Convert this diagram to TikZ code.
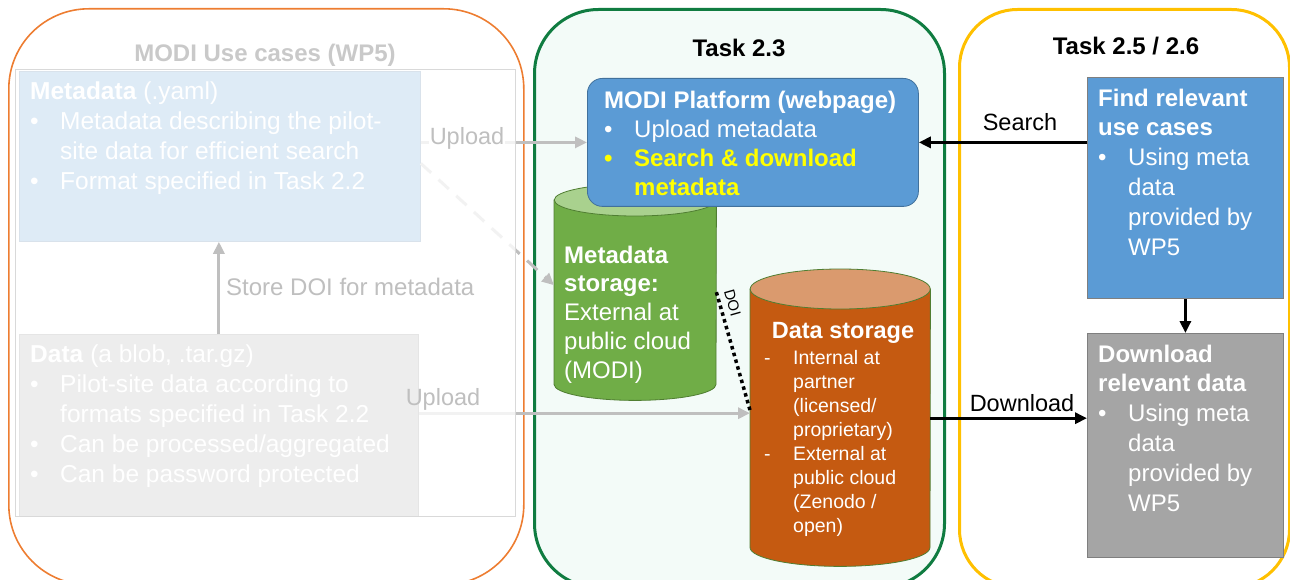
\documentclass[tikz,border=0pt]{standalone}
\usepackage{fontspec}
\setmainfont{Liberation Sans}
\usetikzlibrary{arrows.meta,calc}

\definecolor{cOrange}{HTML}{ED7D31}
\definecolor{cGreenF}{HTML}{107C41}
\definecolor{cMint}{HTML}{F3FBF8}
\definecolor{cYellow}{HTML}{FFC000}
\definecolor{cBlue}{HTML}{5B9BD5}
\definecolor{cBlueD}{HTML}{41719C}
\definecolor{cGray}{HTML}{A5A5A5}
\definecolor{cGrayD}{HTML}{7F7F7F}
\definecolor{cGreen}{HTML}{70AD47}
\definecolor{cGreenL}{HTML}{A9D18E}
\definecolor{cGreenD}{HTML}{507E32}
\definecolor{cRust}{HTML}{C55A11}
\definecolor{cRustL}{HTML}{DA9A6E}
\definecolor{cLine}{HTML}{BFBFBF}
\definecolor{cFaint}{HTML}{C9C9C9}
\definecolor{cVeil}{HTML}{D9D9D9}
\definecolor{cYel}{HTML}{FFFF00}

\newcommand\setfs[2]{\fontsize{#1}{#2}\selectfont}
\newcommand\bitem[1]{\makebox[30pt][l]{\textbullet}#1}
\newcommand\bcont[1]{\hspace*{30pt}#1}
\newcommand\ditem[1]{\makebox[29pt][l]{-}#1}
\newcommand\dcont[1]{\hspace*{29pt}#1}

\tikzset{
  zone/.style={inner sep=0pt, anchor=north west},
  box/.style={inner sep=0pt, anchor=north west, line width=0.8pt},
  txt/.style={inner sep=0pt, anchor=north west, align=left, text=white},
  ttl/.style={inner sep=0pt, anchor=base, font=\setfs{24}{29}\bfseries},
  lbl/.style={inner sep=0pt, anchor=base, font=\setfs{23.5}{28}},
  garrow/.style={draw=cLine, line width=3pt, -{Triangle[length=12pt,width=11pt]}},
  barrow/.style={draw=black, line width=3pt, -{Triangle[length=12pt,width=11pt]}},
}

\begin{document}
\begin{tikzpicture}[x=1pt,y=-1pt]
\useasboundingbox (0,0) rectangle (1290,580);
\clip (0,0) rectangle (1290,580);

% ---------- three work-package zones ----------
\node[zone, draw=cOrange, line width=1.6pt, rounded corners=80pt,
      minimum width=515pt, minimum height=576pt] (wp5) at (8,8) {};
\node[zone, draw=cGreenF, fill=cMint, line width=3pt, rounded corners=64pt,
      minimum width=410pt, minimum height=578pt] (t23) at (533,8) {};
\node[zone, draw=cYellow, line width=3pt, rounded corners=58pt,
      minimum width=330pt, minimum height=578pt] (t256) at (958,8) {};

\node[ttl, text=cFaint] (wp5t) at (265,62) {MODI Use cases (WP5)};
\node[ttl] (t23t) at (739,57) {Task 2.3};
\node[ttl] (t256t) at (1126,55) {Task 2.5 / 2.6};

% ---------- WP5 use cases (shown faded) ----------
\node[box, fill=cBlue, draw=cBlueD, minimum width=401pt, minimum height=170pt] (mbox) at (19,71) {};
\node[txt, font=\setfs{24.5}{30}] (mboxt) at (30,78)
  {\strut\textbf{Metadata} (.yaml)\\
   \bitem{Metadata describing the pilot-}\\
   \bcont{site data for efficient search}\\
   \bitem{Format specified in Task 2.2}};

\node[box, fill=cGray, draw=cGrayD, minimum width=399pt, minimum height=182pt] (dbox) at (19,334) {};
\node[txt, font=\setfs{24.5}{30}] (dboxt) at (30,341)
  {\strut\textbf{Data} (a blob, .tar.gz)\\
   \bitem{Pilot-site data according to}\\
   \bcont{formats specified in Task 2.2}\\
   \bitem{Can be processed/aggregated}\\
   \bitem{Can be password protected}};

% ---------- Task 2.3: metadata storage ----------
\node[zone, minimum width=162pt, minimum height=184pt] (mstore) at (554,200) {};
\draw[fill=cGreen, draw=cGreenD, line width=0.8pt]
  (mstore.north west) -- (mstore.south west)
  arc[start angle=180, end angle=360, x radius=81pt, y radius=16pt]
  -- (mstore.north east) -- cycle;
\draw[fill=cGreenL, draw=cGreenD, line width=0.8pt]
  (mstore.north) ellipse[x radius=81pt, y radius=16pt];
\node[txt, font=\setfs{24}{28.7}] (mstoret) at (564,243)
  {\strut\textbf{Metadata}\\ \textbf{storage:}\\ External at\\ public cloud\\ (MODI)};

% ---------- Task 2.3: platform ----------
\node[box, fill=cBlue, draw=cBlueD, rounded corners=15pt,
      minimum width=331pt, minimum height=128pt] (plat) at (587,78) {};
\node[txt, font=\setfs{24}{29}] (platt) at (604,87.7)
  {\strut\textbf{MODI Platform (webpage)}\\
   \bitem{Upload metadata}\\
   {\color{cYel}\bfseries\bitem{Search \& download}}\\
   {\color{cYel}\bfseries\bcont{metadata}}};

% ---------- Task 2.3: data storage ----------
\node[zone, minimum width=180pt, minimum height=258pt] (dstore) at (750,289) {};
\draw[fill=cRust, draw=cGreenD, line width=0.8pt]
  (dstore.north west) -- (dstore.south west)
  arc[start angle=180, end angle=360, x radius=90pt, y radius=19pt]
  -- (dstore.north east) -- cycle;
\draw[fill=cRustL, draw=cGreenD, line width=0.8pt]
  (dstore.north) ellipse[x radius=90pt, y radius=20pt];
\node[inner sep=0pt, anchor=base, text=white, font=\setfs{23.5}{28}\bfseries] (dstoreh) at (843,338) {Data storage};
\node[txt, font=\setfs{19.5}{24}] (dstoret) at (764,347.7)
  {\strut\ditem{Internal at}\\ \dcont{partner}\\ \dcont{(licensed/}\\ \dcont{proprietary)}\\
   \ditem{External at}\\ \dcont{public cloud}\\ \dcont{(Zenodo /}\\ \dcont{open)}};

% DOI link between the two stores
\draw[line width=3.5pt, dash pattern=on 3.5pt off 3.5pt]
  (mstore.east) -- node[sloped, above, pos=0.12, inner sep=5.5pt, font=\setfs{15}{17}] (doil) {DOI}
  ([yshift=8pt]dstore.west);

% ---------- Task 2.5 / 2.6 ----------
\node[box, fill=cBlue, draw=cGrayD, minimum width=196pt, minimum height=221pt] (find) at (1087,77) {};
\node[txt, font=\setfs{24}{29.8}] (findt) at (1098,85.1)
  {\strut\textbf{Find relevant}\\ \textbf{use cases}\\
   \bitem{Using meta}\\ \bcont{data}\\ \bcont{provided by}\\ \bcont{WP5}};

\node[box, fill=cGray, draw=cGrayD, minimum width=196pt, minimum height=224pt] (dl) at (1087,333) {};
\node[txt, font=\setfs{24}{29.8}] (dlt) at (1098,341.1)
  {\strut\textbf{Download}\\ \textbf{relevant data}\\
   \bitem{Using meta}\\ \bcont{data}\\ \bcont{provided by}\\ \bcont{WP5}};

% ---------- connectors ----------
\draw[garrow] (plat.west -| mbox.east) -- (plat.west);
\draw[garrow] ([yshift=5pt]dstore.west -| dbox.east) -- ([yshift=5pt]dstore.west);
\draw[garrow, dash pattern=on 14pt off 10pt] ([yshift=-7pt]mbox.east) -- ([yshift=7pt]mstore.west);

% faded veil over the WP5 content
\node[box, draw=cVeil, fill=white, fill opacity=0.8, minimum width=500pt, minimum height=447pt] (veil) at (15,69) {};

\draw[garrow] (dbox.north) -- (dbox.north |- mbox.south);
\node[lbl, text=cLine, anchor=base west, font=\setfs{24}{28}] (doit) at (226,295) {Store DOI for metadata};
\node[lbl, text=cLine, fill=white, inner sep=1pt] (up1) at (467,145) {Upload};
\node[lbl, text=cLine] (up2) at (443,405) {Upload};

\draw[barrow] (plat.east -| find.west) -- (plat.east);
\node[lbl] (srch) at (1020,131) {Search};
\draw[barrow] (dstore.east) -- (dstore.east -| dl.west);
\node[lbl] (dwn) at (1022,411) {Download};
\draw[barrow] (find.south) -- (dl.north);
\end{tikzpicture}
\end{document}
